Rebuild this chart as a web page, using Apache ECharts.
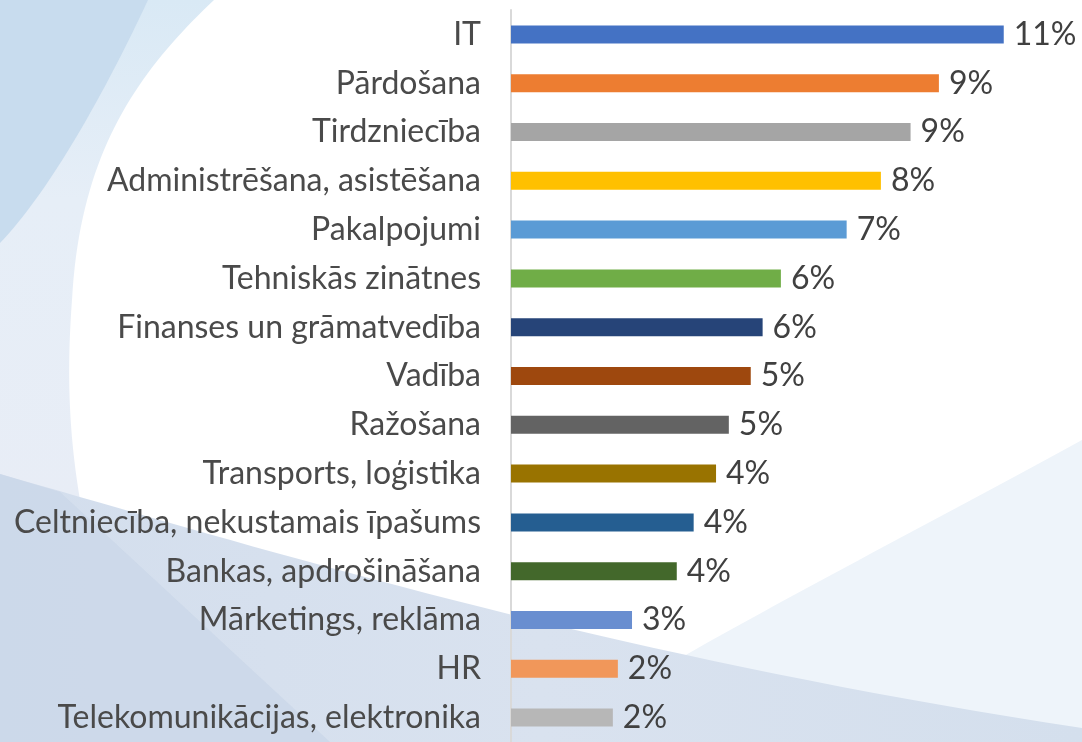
<!DOCTYPE html>
<html>
<head>
<meta charset="utf-8">
<script src="https://cdn.jsdelivr.net/npm/echarts@6/dist/echarts.min.js"></script>
<style>
  html, body { margin: 0; padding: 0; background: #ffffff; }
  #chart { width: 1082px; height: 742px; }
</style>
</head>
<body>
<div id="chart"></div>
<script>
// nozares (no augšas uz leju)
const categories = [
  'IT', 'Pārdošana', 'Tirdzniecība', 'Administrēšana, asistēšana', 'Pakalpojumi',
  'Tehniskās zinātnes', 'Finanses un grāmatvedība', 'Vadība', 'Ražošana',
  'Transports, loģistika', 'Celtniecība, nekustamais īpašums', 'Bankas, apdrošināšana',
  'Mārketings, reklāma', 'HR', 'Telekomunikācijas, elektronika'
];
// procenti (nolasīti no attēla)
const shares = [10.79, 9.37, 8.75, 8.10, 7.35, 5.91, 5.51, 5.25, 4.77, 4.49, 4.00, 3.63, 2.65, 2.34, 2.23];
const barColors = [
  '#4472c4', '#ed7d31', '#a5a5a5', '#ffc000', '#5b9bd5',
  '#70ad47', '#264478', '#9e480e', '#636363', '#997300',
  '#255e91', '#43682b', '#698ed0', '#f1975a', '#b7b7b7'
];

let myChart = echarts.init(document.getElementById('chart'));

// cubic bezier -> punkti fona figūrām
function curve(p0, p1, p2, p3) {
  let pts = [];
  for (let i = 0; i <= 40; i++) {
    let t = i / 40, u = 1 - t;
    pts.push([
      u * u * u * p0[0] + 3 * u * u * t * p1[0] + 3 * u * t * t * p2[0] + t * t * t * p3[0],
      u * u * u * p0[1] + 3 * u * u * t * p1[1] + 3 * u * t * t * p2[1] + t * t * t * p3[1]
    ]);
  }
  return pts;
}
function grad(x2, y2, stops) {
  return { type: 'linear', x: 0, y: 0, x2: x2, y2: y2, colorStops: stops };
}

// fona viļņi
const bg = [
  {
    type: 'polygon', z: -100, silent: true,
    shape: { points: [[0, 0]].concat(curve([214, 0], [140, 70], [80, 150], [72, 300]), curve([72, 300], [66, 380], [70, 440], [80, 500]), [[0, 500]]) },
    style: {
      fill: grad(0, 1, [
        { offset: 0, color: '#d9e9f5' },
        { offset: 0.4, color: '#e6eef7' },
        { offset: 1, color: '#e8edf6' }
      ])
    }
  },
  {
    type: 'polygon', z: -99, silent: true,
    shape: { points: [[0, 0]].concat(curve([148, 0], [120, 60], [60, 180], [0, 243])) },
    style: { fill: '#c8dcee' }
  },
  {
    type: 'polygon', z: -98, silent: true,
    shape: { points: curve([540, 742], [700, 640], [900, 540], [1082, 440]).concat([[1082, 742]]) },
    style: { fill: '#eef4fa' }
  },
  {
    type: 'polygon', z: -97, silent: true,
    shape: { points: curve([0, 474], [250, 545], [600, 655], [1082, 728]).concat([[1082, 742], [0, 742]]) },
    style: {
      fill: grad(1, 0, [
        { offset: 0, color: '#d3deed' },
        { offset: 0.5, color: '#d9e2ef' },
        { offset: 1, color: '#d4dfed' }
      ])
    }
  },
  {
    type: 'polygon', z: -96, silent: true,
    shape: { points: [[0, 474], [60, 492], [330, 742], [0, 742]] },
    style: { fill: '#cad7e9', opacity: 0.8 }
  }
];

let option = {
  animation: false,
  backgroundColor: '#ffffff',
  textStyle: { fontFamily: 'Lato' },
  graphic: { elements: bg },
  grid: {
    left: 511,
    width: 548,
    top: 10,
    height: 739.5,
    containLabel: false
  },
  xAxis: {
    type: 'value',
    min: 0,
    max: 12,
    show: false
  },
  yAxis: {
    type: 'category',
    inverse: true,
    data: categories,
    axisLine: { show: true, lineStyle: { color: '#d9d9d9', width: 2 } },
    axisTick: { show: false },
    axisLabel: {
      margin: 30,
      color: '#4a4a4a',
      fontSize: 32,
      fontFamily: 'Lato',
      padding: [5, 0, 0, 0]
    }
  },
  series: [
    {
      type: 'bar',
      data: shares.map((v, i) => ({ value: v, itemStyle: { color: barColors[i] } })),
      barWidth: 18,
      label: {
        show: true,
        position: 'right',
        distance: 10,
        color: '#404040',
        fontSize: 32,
        fontFamily: 'Lato',
        padding: [5, 0, 0, 0],
        formatter: p => Math.round(p.value) + '%'
      }
    }
  ]
};
myChart.setOption(option);
</script>
</body>
</html>
